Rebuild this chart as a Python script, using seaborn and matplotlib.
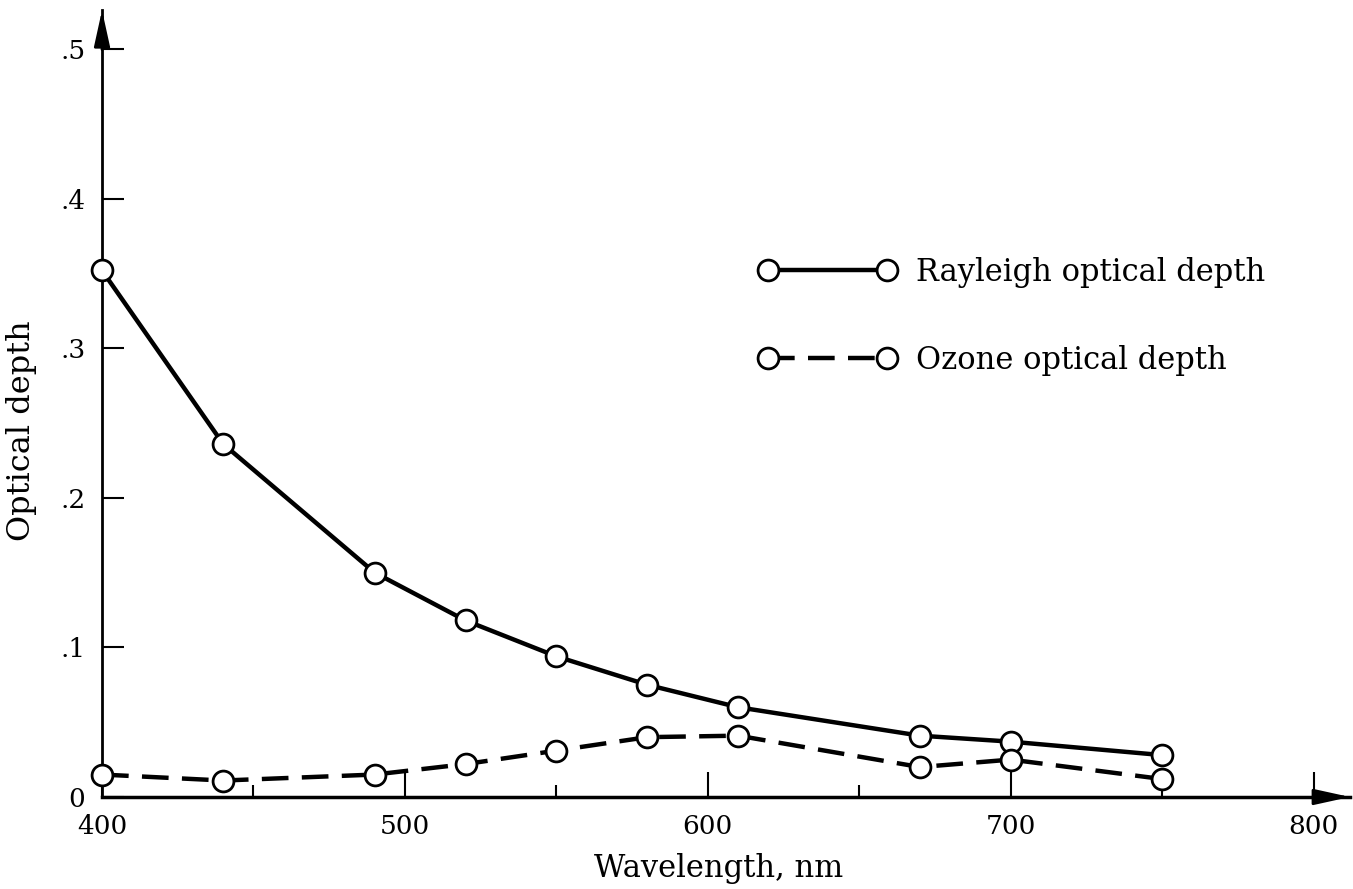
import matplotlib
matplotlib.use("Agg")
import matplotlib.pyplot as plt
import seaborn as sns

# Measured optical depths at each wavelength (nm)
wavelength_nm = [400, 440, 490, 520, 550, 580, 610, 670, 700, 750]
rayleigh_depth = [0.352, 0.236, 0.150, 0.118, 0.094, 0.075, 0.060, 0.041, 0.037, 0.028]
ozone_depth = [0.015, 0.011, 0.015, 0.022, 0.031, 0.040, 0.041, 0.020, 0.025, 0.012]
series_names = ["Rayleigh optical depth", "Ozone optical depth"]

x_major_ticks = [400, 500, 600, 700, 800]
x_minor_ticks = [450, 550, 650, 750]
y_ticks = [0, 0.1, 0.2, 0.3, 0.4, 0.5]
y_tick_labels = ["0", ".1", ".2", ".3", ".4", ".5"]

sns.set_theme(style="ticks")
plt.rcParams["font.family"] = ["DejaVu Serif"]
plt.rcParams["text.color"] = "black"
plt.rcParams["axes.labelcolor"] = "black"
TICK_FS = 19
TEXT_FS = 22

fig = plt.figure(figsize=(13.53, 8.89), dpi=100)
ax = fig.add_axes([0.0754, 0.1035, 0.9224, 0.885])

style = dict(color="black", marker="o", markersize=15, markerfacecolor="white",
             markeredgecolor="black", markeredgewidth=2, linewidth=3.2,
             clip_on=False, zorder=3)

sns.lineplot(x=wavelength_nm, y=rayleigh_depth, ax=ax, label=series_names[0], **style)
sns.lineplot(x=wavelength_nm, y=ozone_depth, ax=ax, label=series_names[1],
             linestyle=(0, (6, 3)), **style)

ax.set_xlim(400, 812)
ax.set_ylim(0, 0.526)

ax.set_xticks(x_major_ticks)
ax.set_xticks(x_minor_ticks, minor=True)
ax.set_yticks(y_ticks)
ax.set_yticklabels(y_tick_labels)

ax.tick_params(axis="x", which="major", direction="in", length=18, width=1.5,
               pad=12, labelsize=TICK_FS, colors="black")
ax.tick_params(axis="x", which="minor", direction="in", length=9, width=1.5,
               colors="black")
ax.tick_params(axis="y", which="major", direction="in", length=16, width=1.5,
               pad=12, labelsize=TICK_FS, colors="black")

sns.despine(ax=ax)
ax.spines["left"].set_linewidth(2)
ax.spines["bottom"].set_linewidth(2.5)
ax.spines["left"].set_color("black")
ax.spines["bottom"].set_color("black")

# Arrow heads on both axes
head = dict(arrowstyle="-|>,head_length=1.0,head_width=0.22", color="black",
            lw=2, mutation_scale=22, shrinkA=0, shrinkB=0)
ax.annotate("", xy=(1.0, 0.0), xytext=(0.97, 0.0), xycoords="axes fraction",
            arrowprops=head, annotation_clip=False)
ax.annotate("", xy=(0.0, 1.0), xytext=(0.0, 0.95), xycoords="axes fraction",
            arrowprops=head, annotation_clip=False)

ax.set_xlabel("Wavelength, nm", fontsize=TEXT_FS)
ax.xaxis.set_label_coords(0.494, -0.071)
ax.set_ylabel("Optical depth", fontsize=23)
ax.yaxis.set_label_coords(-0.052, 0.466)

ax.legend(loc="center left", bbox_to_anchor=(0.526, 0.611), frameon=False,
          numpoints=2, handlelength=4.52, handletextpad=0.62, labelspacing=1.87,
          fontsize=TEXT_FS, borderpad=0, borderaxespad=0, labelcolor="black")

fig.savefig("out.png", dpi=100, facecolor="white")
